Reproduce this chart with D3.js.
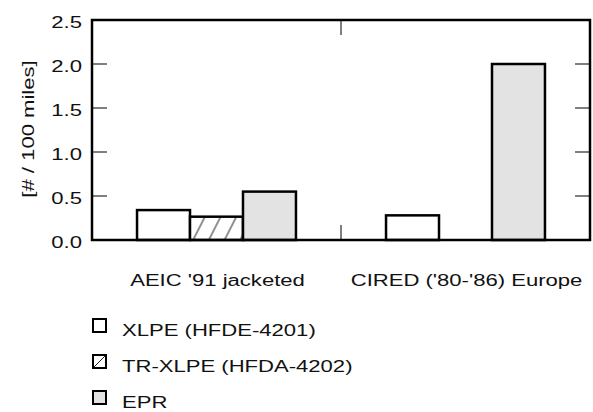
<!DOCTYPE html>
<html>
<head>
<meta charset="utf-8">
<script src="https://cdn.jsdelivr.net/npm/d3@7"></script>
<style>
  body { margin: 0; background: #fff; }
  svg { display: block; font-family: "Liberation Sans", Arial, sans-serif; }
</style>
</head>
<body>
<svg></svg>
<script>
const categories = ["AEIC '91 jacketed", "CIRED ('80-'86) Europe"];
const seriesNames = ["XLPE (HFDE-4201)", "TR-XLPE (HFDA-4202)", "EPR"];
const xlpe = [0.34, 0.28];
const trxlpe = [0.265, null];
const epr = [0.55, 2.0];
const yTicks = [0, 0.5, 1.0, 1.5, 2.0, 2.5];

const width = 593;
const height = 412;
const margin = { top: 20, right: 3, bottom: 172, left: 92 };
const stretch = 1.38; // the original font is wide for its height

const svg = d3.select("svg").attr("width", width).attr("height", height);

const defs = svg.append("defs");
const pat = defs.append("pattern")
  .attr("id", "hatch")
  .attr("patternUnits", "userSpaceOnUse")
  .attr("width", 14)
  .attr("height", 14)
  .attr("patternTransform", "rotate(27)");
pat.append("rect").attr("width", 14).attr("height", 14).attr("fill", "#fff");
pat.append("line")
  .attr("x1", 1).attr("y1", 0).attr("x2", 1).attr("y2", 14)
  .attr("stroke", "#222").attr("stroke-width", 1);

const series = [
  { name: seriesNames[0], values: xlpe, fill: "#fff" },
  { name: seriesNames[1], values: trxlpe, fill: "url(#hatch)" },
  { name: seriesNames[2], values: epr, fill: "#e3e3e3" }
];

const x0 = d3.scaleBand()
  .domain(categories)
  .range([margin.left, width - margin.right]);

const x1 = d3.scaleBand()
  .domain(seriesNames)
  .range([0, x0.bandwidth()])
  .paddingOuter(0.85);

const y = d3.scaleLinear().domain([0, 2.5]).range([height - margin.bottom, margin.top]);

const plotW = width - margin.right - margin.left;
const plotH = height - margin.bottom - margin.top;

// bars
const bars = [];
series.forEach(s => {
  s.values.forEach((v, i) => {
    if (v != null) bars.push({ cat: categories[i], name: s.name, value: v, fill: s.fill });
  });
});

svg.append("g")
  .selectAll("rect")
  .data(bars)
  .join("rect")
  .attr("x", d => x0(d.cat) + x1(d.name))
  .attr("y", d => y(d.value))
  .attr("width", x1.bandwidth())
  .attr("height", d => y(0) - y(d.value))
  .attr("fill", d => d.fill)
  .attr("stroke", "#000")
  .attr("stroke-width", 2.5);

// inward ticks on all four sides
const tickLen = 15;
const ticks = svg.append("g").attr("stroke", "#555").attr("stroke-width", 1.5);
yTicks.slice(1, -1).forEach(t => {
  ticks.append("line").attr("x1", margin.left).attr("x2", margin.left + tickLen)
    .attr("y1", y(t)).attr("y2", y(t));
  ticks.append("line").attr("x1", width - margin.right - tickLen).attr("x2", width - margin.right)
    .attr("y1", y(t)).attr("y2", y(t));
});
const divX = x0(categories[1]);
ticks.append("line").attr("x1", divX).attr("x2", divX)
  .attr("y1", margin.top).attr("y2", margin.top + tickLen);
ticks.append("line").attr("x1", divX).attr("x2", divX)
  .attr("y1", y(0) - tickLen).attr("y2", y(0));

// frame
svg.append("rect")
  .attr("x", margin.left).attr("y", margin.top)
  .attr("width", plotW).attr("height", plotH)
  .attr("fill", "none").attr("stroke", "#000").attr("stroke-width", 2.5);

// y tick labels
svg.append("g")
  .selectAll("text")
  .data(yTicks)
  .join("text")
  .attr("transform", d => `translate(82, ${y(d) + 8}) scale(${stretch}, 1)`)
  .attr("text-anchor", "end")
  .attr("font-size", 16)
  .attr("fill", "#111")
  .text(d => d3.format(".1f")(d));

// y label
svg.append("text")
  .attr("transform", `translate(33.5, ${margin.top + plotH / 2 - 1}) rotate(-90) scale(${stretch}, 1)`)
  .attr("text-anchor", "middle")
  .attr("font-size", 16)
  .attr("fill", "#111")
  .text("[# / 100 miles]");

// category labels
svg.append("g")
  .selectAll("text")
  .data(categories)
  .join("text")
  .attr("transform", d => `translate(${x0(d) + x0.bandwidth() / 2 + 1}, 286) scale(${stretch}, 1)`)
  .attr("text-anchor", "middle")
  .attr("font-size", 16)
  .attr("fill", "#111")
  .text(d => d);

// legend
const legend = svg.append("g")
  .selectAll("g")
  .data(series)
  .join("g")
  .attr("transform", (d, i) => `translate(93, ${319 + i * 36})`);

legend.append("rect")
  .attr("width", 13).attr("height", 13)
  .attr("fill", d => d.fill === "url(#hatch)" ? "#fff" : d.fill)
  .attr("stroke", "#000").attr("stroke-width", 2);

legend.filter((d, i) => i === 1)
  .append("line")
  .attr("x1", 1).attr("y1", 12).attr("x2", 12).attr("y2", 1)
  .attr("stroke", "#222").attr("stroke-width", 1);

legend.append("text")
  .attr("transform", `translate(29, 17) scale(${stretch}, 1)`)
  .attr("font-size", 16)
  .attr("fill", "#111")
  .text(d => d.name);
</script>
</body>
</html>
